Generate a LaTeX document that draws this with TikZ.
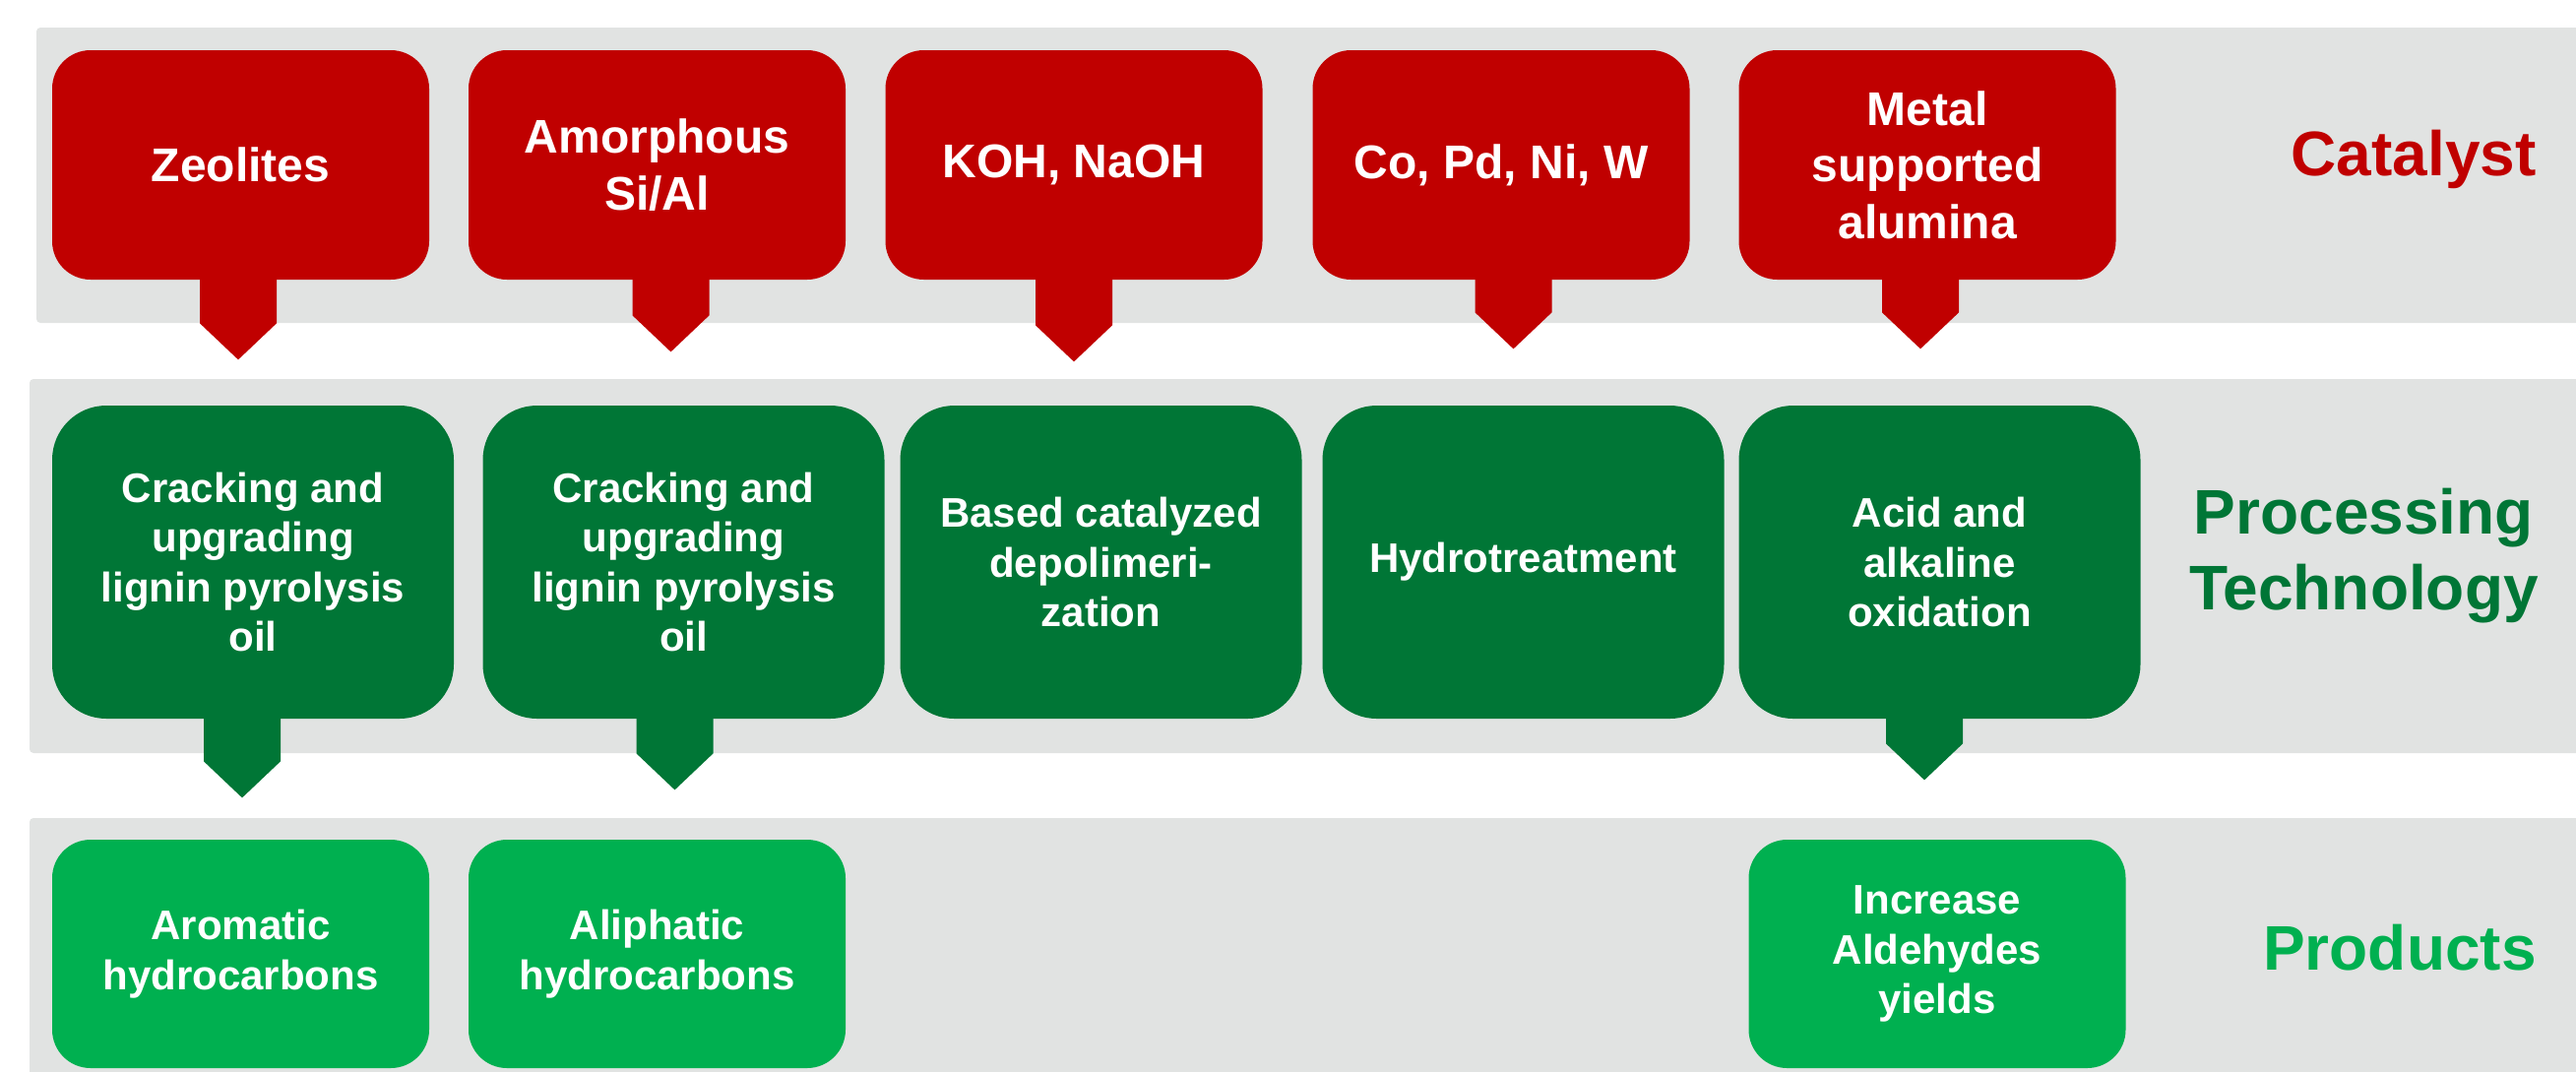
\documentclass[tikz,border=0pt]{standalone}
\usepackage{fontspec}
\setmainfont{Liberation Sans}
\usetikzlibrary{calc}
\definecolor{catred}{RGB}{192,0,0}
\definecolor{procgreen}{RGB}{0,118,54}
\definecolor{prodgreen}{RGB}{0,176,80}
\definecolor{bandgray}{RGB}{225,227,226}
% pointer under a box: node, x-shift, neck length, colour
\newcommand\calltail[4]{%
  \fill[#4] ($(#1.south)+({#2-39},-2)$) -- ++(0,{#3+2}) -- ++(39,37) -- ++(39,-37) -- ++(0,{-#3-2}) -- cycle;}
\begin{document}
\begin{tikzpicture}[x=0.5pt,y=-0.5pt,line join=bevel,
  band/.style={fill=bandgray,rounded corners=2pt},
  catbox/.style={fill=catred,text=white,rounded corners=19.5pt,inner sep=0pt,
    minimum width=191.5pt,minimum height=116.5pt,align=center,
    font=\fontsize{24}{28.8}\selectfont\bfseries},
  procbox/.style={fill=procgreen,text=white,rounded corners=27.5pt,inner sep=0pt,
    minimum width=204pt,minimum height=159pt,align=center,
    font=\fontsize{21}{25.3}\selectfont\bfseries},
  prodbox/.style={fill=prodgreen,text=white,rounded corners=19.5pt,inner sep=0pt,
    minimum width=191.5pt,minimum height=116pt,align=center,
    font=\fontsize{21}{25.3}\selectfont\bfseries},
  rowlabel/.style={inner sep=0pt,align=center,font=\fontsize{32}{38.5}\selectfont\bfseries}]
  \useasboundingbox (0,0) rectangle (2617,1088);
%%
  % Band: catalyst, processing, products
  \fill[band] (37,28) rectangle (2640,328);
  \fill[band] (30,385) rectangle (2640,765);
  \fill[band] (30,831) rectangle (2640,1110);
%%
  % Node: catalysts
  \node[catbox] (zeolites) at (244.5,167.5) {Zeolites};
  \node[catbox] (amorph) at (667.5,167.5) {Amorphous\\Si/Al};
  \node[catbox] (koh) at (1091,167.5) {KOH, NaOH};
  \node[catbox] (metals) at (1525,167.5) {Co, Pd, Ni, W};
  \node[catbox] (alumina) at (1958,167.5) {Metal\\supported\\alumina};
  \calltail{zeolites}{-2.5}{44}{catred}
  \calltail{amorph}{14}{36}{catred}
  \calltail{koh}{0}{46}{catred}
  \calltail{metals}{12.5}{33}{catred}
  \calltail{alumina}{-7}{33}{catred}
  % Node: processes
  \node[procbox] (crack1) at (257,571) {Cracking and\\upgrading\\lignin pyrolysis\\oil};
  \node[procbox] (crack2) at (694.5,571) {Cracking and\\upgrading\\lignin pyrolysis\\oil};
  \node[procbox] (depol) at (1118.5,571) {Based catalyzed\\depolimeri-\\zation};
  \node[procbox] (hydro) at (1547.5,571) {Hydrotreatment};
  \node[procbox] (oxid) at (1970.5,571) {Acid and\\alkaline\\oxidation};
  \calltail{crack1}{-11}{43}{procgreen}
  \calltail{crack2}{-9}{35}{procgreen}
  \calltail{oxid}{-15.5}{25}{procgreen}
  % Node: products
  \node[prodbox] (aromatic) at (244.5,969) {Aromatic\\hydrocarbons};
  \node[prodbox] (aliphatic) at (667.5,969) {Aliphatic\\hydrocarbons};
  \node[prodbox] (aldehyd) at (1968,969) {Increase\\Aldehydes\\yields};
  % Node: row labels
  \node[rowlabel,text=catred,anchor=base east] (catlabel) at (2577,178) {Catalyst};
  \node[rowlabel,text=procgreen,anchor=east] (proclabel) at (2579,565) {Processing\\Technology};
  \node[rowlabel,text=prodgreen,anchor=base east] (prodlabel) at (2577,985) {Products};
%
\end{tikzpicture}
\end{document}
